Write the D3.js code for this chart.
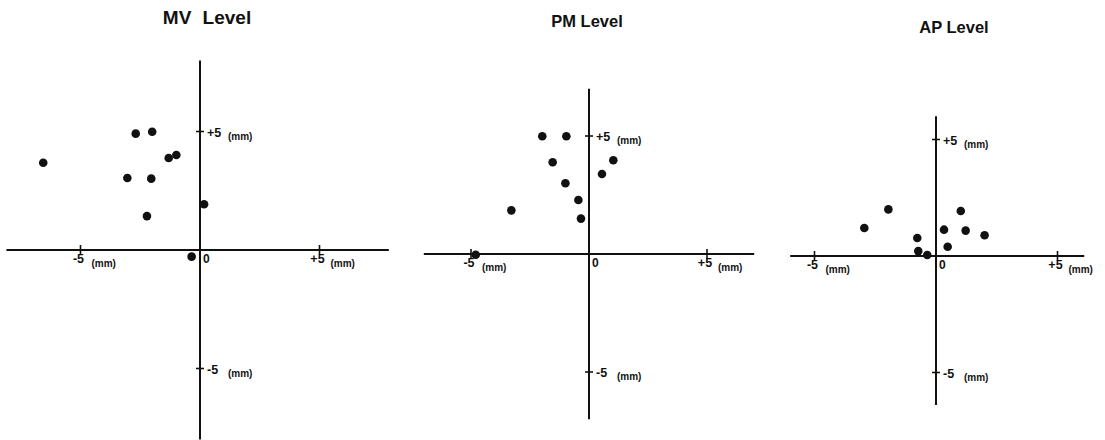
<!DOCTYPE html>
<html>
<head>
<meta charset="utf-8">
<script src="https://cdn.jsdelivr.net/npm/d3@7"></script>
<style>
  html, body { margin: 0; padding: 0; background: #fff; }
  svg { display: block; }
  text { font-family: "Liberation Sans", Arial, Helvetica, sans-serif; font-weight: bold; fill: #111; }
</style>
</head>
<body>
<svg id="chart" width="1105" height="440"></svg>
<script>
// ---- Data (mm) ----
const panelTitles = ["MV  Level", "PM Level", "AP Level"];
const tickValues = [-5, 5];
const tickLabels = ["-5", "+5"];
const unitLabel = "(mm)";

const mvX = [-6.56, -2.69, -2.00, -1.31, -0.99, -3.04, -2.04, -2.22, 0.17, -0.35];
const mvY = [ 3.68,  4.91,  4.99,  3.88,  4.01,  3.04,  3.01,  1.43, 1.93, -0.28];

const pmX = [-1.98, -0.96, -1.54, 1.03, 0.55, -1.00, -0.45, -3.29, -0.34, -4.80];
const pmY = [ 4.99,  4.99,  3.89, 3.97, 3.39,  3.00,  2.29,  1.85,  1.50, -0.03];

const apX = [-1.96, -2.95, 1.02, 0.33, 1.22, 2.00, -0.77, 0.48, -0.73, -0.36];
const apY = [ 2.00,  1.20, 1.93, 1.13, 1.09, 0.89,  0.77, 0.40,  0.21,  0.04];

// ---- Layout (pixels) ----
const layouts = [
  { ox: 200, oy: 250, kx: 23.9, ky: 23.7, xd: [-8.1, 7.9], yd: [-8.0, 8.0], tx: 207, ty: 24, ts: 19, ws: 6 },
  { ox: 589, oy: 254, kx: 23.6, ky: 23.6, xd: [-7.0, 7.0], yd: [-7.0, 7.0], tx: 587, ty: 27, ts: 16.5, ws: 0 },
  { ox: 936, oy: 256, kx: 24.3, ky: 23.3, xd: [-6.0, 6.1], yd: [-6.4, 6.0], tx: 954, ty: 33, ts: 16.5, ws: 0 }
];
const datasets = [[mvX, mvY], [pmX, pmY], [apX, apY]];

const svg = d3.select("#chart");

layouts.forEach((L, i) => {
  const x = d3.scaleLinear().domain([-5, 5]).range([L.ox - 5 * L.kx, L.ox + 5 * L.kx]);
  const y = d3.scaleLinear().domain([-5, 5]).range([L.oy + 5 * L.ky, L.oy - 5 * L.ky]);
  const g = svg.append("g");

  // title
  g.append("text").attr("x", L.tx).attr("y", L.ty)
    .attr("text-anchor", "middle").attr("font-size", L.ts)
    .style("word-spacing", L.ws + "px")
    .text(panelTitles[i]);

  // axes
  g.append("line")
    .attr("x1", x(L.xd[0])).attr("x2", x(L.xd[1]))
    .attr("y1", y(0)).attr("y2", y(0))
    .attr("stroke", "#111").attr("stroke-width", 2);
  g.append("line")
    .attr("x1", x(0)).attr("x2", x(0))
    .attr("y1", y(L.yd[1])).attr("y2", y(L.yd[0]))
    .attr("stroke", "#111").attr("stroke-width", 2);

  // ticks on horizontal axis
  tickValues.forEach((v, j) => {
    g.append("line").attr("x1", x(v)).attr("x2", x(v))
      .attr("y1", y(0) - 5).attr("y2", y(0) + 5)
      .attr("stroke", "#111").attr("stroke-width", 1.6);
    g.append("text").attr("x", x(v) - 2).attr("y", y(0) + 13)
      .attr("text-anchor", "middle").attr("font-size", 12.5)
      .text(tickLabels[j]);
    g.append("text").attr("x", x(v) + 11).attr("y", y(0) + 17)
      .attr("font-size", 10).text(unitLabel);
  });
  // zero label
  g.append("text").attr("x", x(0) + 3).attr("y", y(0) + 13)
    .attr("font-size", 12).text("0");

  // ticks on vertical axis
  tickValues.forEach((v, j) => {
    g.append("line").attr("x1", x(0) - 4).attr("x2", x(0) + 4)
      .attr("y1", y(v)).attr("y2", y(v))
      .attr("stroke", "#111").attr("stroke-width", 1.6);
    g.append("text").attr("x", x(0) + 7).attr("y", y(v) + 5)
      .attr("font-size", 12.5).text(tickLabels[j]);
    g.append("text").attr("x", x(0) + 28).attr("y", y(v) + 8)
      .attr("font-size", 10).text(unitLabel);
  });

  // points
  const [xs, ys] = datasets[i];
  g.selectAll("circle").data(d3.range(xs.length)).join("circle")
    .attr("cx", k => x(xs[k])).attr("cy", k => y(ys[k]))
    .attr("r", 4.3).attr("fill", "#111");
});
</script>
</body>
</html>
